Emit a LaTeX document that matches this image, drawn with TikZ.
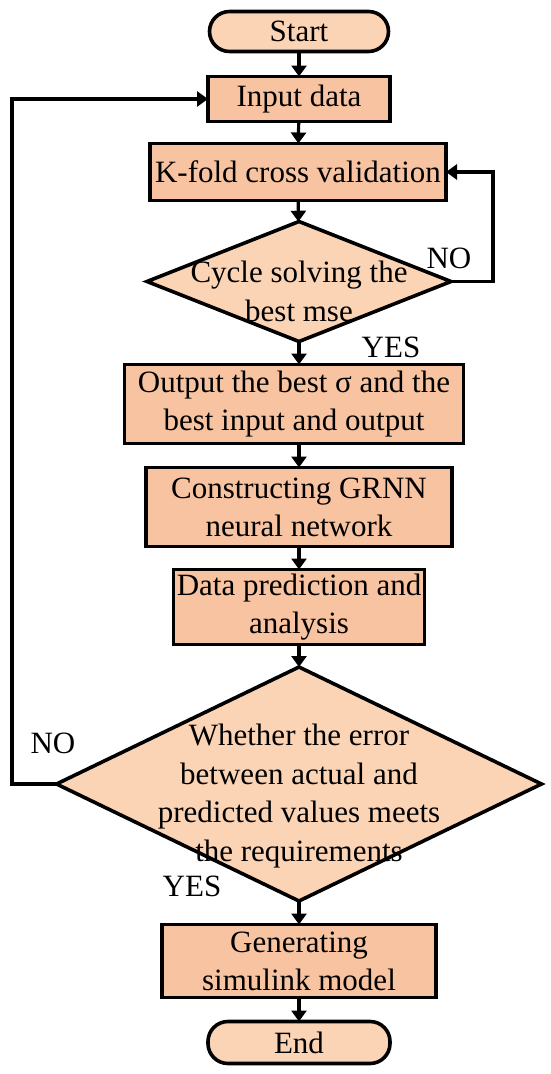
\documentclass[tikz,border=0pt]{standalone}
\usepackage{fontspec}
\setmainfont{Liberation Serif}
\usetikzlibrary{shapes.geometric,arrows.meta}
\definecolor{boxfill}{HTML}{F8C3A0}
\definecolor{lightfill}{HTML}{FBD4B6}
\begin{document}
\begin{tikzpicture}[x=1pt,y=-1pt,
  base/.style={draw=black,line width=3.6pt,font=\fontsize{31}{38}\selectfont,align=center,inner sep=0pt,outer sep=0pt},
  term/.style={base,fill=lightfill,rounded corners=20pt},
  proc/.style={base,fill=boxfill},
  dec/.style={base,diamond,fill=lightfill},
  dtext/.style={font=\fontsize{31}{38.5}\selectfont,align=center,inner sep=0pt},
  lbl/.style={font=\fontsize{31}{38}\selectfont,inner sep=0pt},
  conn/.style={line width=3.2pt,-{Triangle[width=15pt,length=11pt]}},
]
\useasboundingbox (0,0) rectangle (550,1074);
\node[term,minimum width=179pt,minimum height=40pt] (start) at (299,31.5) {Start};
\node[proc,minimum width=182pt,minimum height=45pt] (input) at (299,99) {Input data};
\node[proc,minimum width=296pt,minimum height=57pt] (kfold) at (298,172) {K-fold cross validation};
\node[dec,minimum width=304pt,minimum height=120pt] (d1) at (299,281.5) {};
\node[dtext] (d1t) at ([yshift=-10pt]d1.center) {Cycle solving the\\best mse};
\node[proc,minimum width=339pt,minimum height=79pt] (out) at (294,404) {Output the best σ and the\\best input and output};
\node[proc,minimum width=306pt,minimum height=79pt] (grnn) at (299,507) {Constructing GRNN\\neural network};
\node[proc,minimum width=251pt,minimum height=75pt] (data) at (299,607) {Data prediction and\\analysis};
\node[dec,minimum width=485pt,minimum height=234pt] (d2) at (299,784) {};
\node[dtext] (d2t) at ([yshift=-12pt]d2.center) {Whether the error\\between actual and\\predicted values meets\\the requirements};
\node[proc,minimum width=274pt,minimum height=73pt] (gen) at (299,961) {Generating\\simulink model};
\node[term,minimum width=182pt,minimum height=42pt] (end) at (299,1042.5) {End};
\coordinate (lx) at (12,0);
\coordinate (rx) at (493,0);
\draw[conn] (start) -- (input);
\draw[conn] (input) -- (kfold);
\draw[conn] (kfold) -- (d1);
\draw[conn] (d1.south) -- (d1.south |- out.north);
\draw[conn] (d1.east) -- (d1.east -| rx) |- (kfold.east);
\draw[conn] (out.south -| grnn.north) -- (grnn.north);
\draw[conn] (grnn) -- (data);
\draw[conn] (data) -- (d2);
\draw[conn] (d2.west) -- (d2.west -| lx) |- (input.west);
\draw[conn] (d2) -- (gen);
\draw[conn] (gen) -- (end);
\node[lbl] (no1) at (449,258) {NO};
\node[lbl] (yes1) at (391,347) {YES};
\node[lbl] (no2) at (53,743) {NO};
\node[lbl] (yes2) at (192,886) {YES};
\end{tikzpicture}
\end{document}
